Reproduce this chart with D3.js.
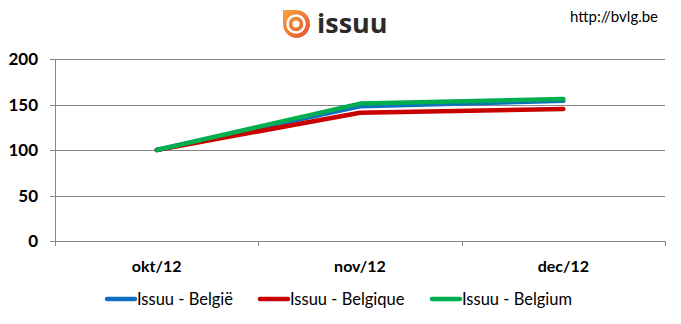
<!DOCTYPE html>
<html>
<head>
<meta charset="utf-8">
<script src="https://cdn.jsdelivr.net/npm/d3@7"></script>
<style>
  body { margin: 0; background: #fff; }
  svg { display: block; font-family: Lato, "Open Sans", sans-serif; }
</style>
</head>
<body>
<svg id="chart" width="681" height="324"></svg>
<script>
// data
var months = ["okt/12", "nov/12", "dec/12"];
var belgie = [100, 148, 154];
var belgique = [100, 141, 145];
var belgium = [100, 151, 156];
var yTicks = [0, 50, 100, 150, 200];

var series = [
  {name: "Issuu - België", values: belgie, color: "#0f6fc0"},
  {name: "Issuu - Belgique", values: belgique, color: "#c80000"},
  {name: "Issuu - Belgium", values: belgium, color: "#00ae50"}
];

var svg = d3.select("#chart");
var plotLeft = 55, plotRight = 665, plotTop = 59, plotBottom = 241;

var x = d3.scaleBand().domain(months).range([plotLeft, plotRight]);
var y = d3.scaleLinear().domain([0, 200]).range([plotBottom, plotTop]);

// gridlines
svg.append("g").selectAll("line").data(yTicks).enter().append("line")
  .attr("x1", plotLeft - 5).attr("x2", plotRight)
  .attr("y1", d => Math.round(y(d)) + 0.5).attr("y2", d => Math.round(y(d)) + 0.5)
  .attr("stroke", "#878787").attr("stroke-width", 1);

// y axis line
svg.append("line")
  .attr("x1", plotLeft + 0.5).attr("x2", plotLeft + 0.5)
  .attr("y1", plotTop).attr("y2", plotBottom + 5)
  .attr("stroke", "#878787");

// category ticks
var bounds = months.slice(1).map(m => x(m)).concat([plotRight]);
svg.append("g").selectAll("line").data(bounds).enter().append("line")
  .attr("x1", d => Math.round(d) + 0.5).attr("x2", d => Math.round(d) + 0.5)
  .attr("y1", plotBottom).attr("y2", plotBottom + 5)
  .attr("stroke", "#878787");

// y labels
svg.append("g").selectAll("text").data(yTicks).enter().append("text")
  .attr("x", 38).attr("y", d => y(d) + 6)
  .attr("text-anchor", "end")
  .attr("font-size", 17).attr("font-weight", "bold").attr("fill", "#000")
  .text(d => d);

// x labels
svg.append("g").selectAll("text").data(months).enter().append("text")
  .attr("x", d => x(d) + x.bandwidth() / 2).attr("y", 272)
  .attr("text-anchor", "middle")
  .attr("font-size", 16).attr("font-weight", "bold").attr("fill", "#000")
  .text(d => d);

// lines
var line = d3.line()
  .x((d, i) => x(months[i]) + x.bandwidth() / 2)
  .y(d => y(d));

svg.append("g").selectAll("path").data(series).enter().append("path")
  .attr("d", d => line(d.values))
  .attr("fill", "none")
  .attr("stroke", d => d.color)
  .attr("stroke-width", 4.5)
  .attr("stroke-linecap", "round")
  .attr("stroke-linejoin", "round");

// legend
var legendX = [107, 260, 432];
var lg = svg.append("g").selectAll("g").data(series).enter().append("g")
  .attr("transform", (d, i) => "translate(" + legendX[i] + ",299)");
lg.append("line")
  .attr("x1", 0).attr("x2", 28).attr("y1", 0).attr("y2", 0)
  .attr("stroke", d => d.color).attr("stroke-width", 4.5)
  .attr("stroke-linecap", "round");
lg.append("text")
  .attr("x", 30).attr("y", 6)
  .attr("font-size", 16.5).attr("fill", "#000")
  .text(d => d.name);

// header: issuu logo and url
var logo = svg.append("g").attr("transform", "translate(283,10)");
var grad = svg.append("defs").append("linearGradient").attr("id", "og")
  .attr("x1", 0).attr("y1", 0).attr("x2", 1).attr("y2", 1);
grad.append("stop").attr("offset", "0%").attr("stop-color", "#f7a441");
grad.append("stop").attr("offset", "100%").attr("stop-color", "#e4502a");
logo.append("path")
  .attr("d", "M0,0 H13 A14,14 0 0 1 13,28 A14,14 0 0 1 0,14 Z")
  .attr("fill", "url(#og)");
logo.append("circle").attr("cx", 13).attr("cy", 14).attr("r", 8.5)
  .attr("fill", "none").attr("stroke", "#fff").attr("stroke-width", 2.5);
logo.append("circle").attr("cx", 13).attr("cy", 14).attr("r", 3.5).attr("fill", "#fff");
svg.append("text").attr("x", 317).attr("y", 33)
  .attr("font-size", 27).attr("font-weight", "bold").attr("fill", "#2b2b2b")
  .attr("font-family", "'Open Sans', sans-serif")
  .text("issuu");
svg.append("text").attr("x", 570).attr("y", 22)
  .attr("font-size", 15).attr("fill", "#000")
  .text("http://bvlg.be");
</script>
</body>
</html>
